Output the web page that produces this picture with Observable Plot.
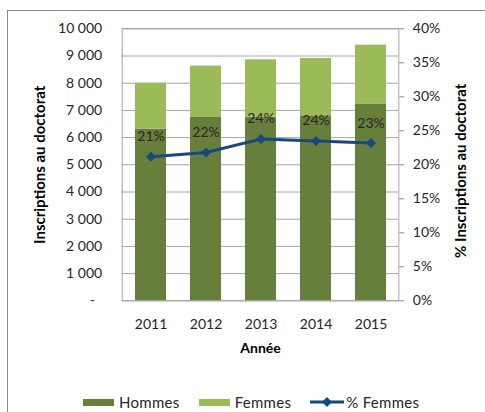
<!DOCTYPE html>
<html>
<head>
<meta charset="utf-8">
<script src="https://cdn.jsdelivr.net/npm/d3@7"></script>
<script src="https://cdn.jsdelivr.net/npm/@observablehq/plot@0.6"></script>
<style>
  html, body { margin: 0; padding: 0; background: #fff; overflow: hidden; width: 485px; height: 412px; }
  #frame { position: absolute; left: 7px; top: 10px; width: 600px; height: 600px; border: 1px solid #8c8c8c; box-sizing: border-box; }
  #chart { position: absolute; left: 0; top: 0; }
  #legend { position: absolute; left: 83px; top: 393px; display: flex; align-items: center; font-family: Lato, sans-serif; font-size: 15px; letter-spacing: 0.3px; color: #262626; }
  .item { display: flex; align-items: center; margin-right: 19px; }
  .sw { width: 31px; height: 7px; margin-right: 5px; }
</style>
</head>
<body>
<div id="frame"></div>
<div id="chart"></div>
<div id="legend"></div>
<script>
const years = ["2011", "2012", "2013", "2014", "2015"];
const hommes = [6310, 6760, 6750, 6800, 7220];
const femmes = [1690, 1870, 2110, 2110, 2180];
const pctFemmes = [21.2, 21.8, 23.8, 23.5, 23.2];
const seriesNames = ["Hommes", "Femmes", "% Femmes"];
const leftTicks = [0, 1000, 2000, 3000, 4000, 5000, 6000, 7000, 8000, 9000, 10000];
const rightTicks = [0, 5, 10, 15, 20, 25, 30, 35, 40];
const yTitle = "Inscriptions au doctorat";
const y2Title = "% Inscriptions au doctorat";
const xTitle = "Année";

const colors = {"Hommes": "#66803b", "Femmes": "#9bbb59", "% Femmes": "#17497e"};
const k = 10000 / 40;

const bars = years.flatMap((y, i) => [
  {year: y, series: seriesNames[0], value: hommes[i]},
  {year: y, series: seriesNames[1], value: femmes[i]}
]);
const line = years.map((y, i) => ({year: y, pct: pctFemmes[i]}));

const loc = d3.formatLocale({decimal: ",", thousands: " ", grouping: [3], currency: ["", ""]});
const fmt = loc.format(",");

const chart = Plot.plot({
  width: 485,
  height: 360,
  marginLeft: 121.7,
  marginRight: 86.7,
  marginTop: 28.3,
  marginBottom: 59.7,
  style: {fontFamily: "Lato, sans-serif", fontSize: "14px", color: "#262626", background: "transparent", overflow: "visible"},
  x: {domain: years, paddingInner: 0.44, paddingOuter: 0.22, axis: null, label: null},
  y: {domain: [0, 10000], axis: null, label: null},
  color: {domain: seriesNames.slice(0, 2), range: [colors["Hommes"], colors["Femmes"]]},
  marks: [
    Plot.gridY(leftTicks, {stroke: "#a6a6a6", strokeOpacity: 1}),
    Plot.barY(bars, {x: "year", y: "value", fill: "series", order: seriesNames.slice(0, 2)}),
    Plot.frame({stroke: "#a6a6a6"}),
    Plot.axisY(leftTicks, {anchor: "left", tickSize: 0, tickPadding: 20, label: null,
      tickFormat: d => d === 0 ? "-\u00a0\u00a0" : fmt(d), fill: "#262626"}),
    Plot.axisY(rightTicks.map(p => p * k), {anchor: "right", tickSize: 5, tickPadding: 9, label: null,
      tickFormat: d => Math.round(d / k) + "%", stroke: "#8c8c8c", fill: "#262626"}),
    Plot.axisX({tickSize: 0, tickPadding: 18, label: null, fill: "#262626"}),
    Plot.line(line, {x: "year", y: d => d.pct * k, stroke: colors["% Femmes"], strokeWidth: 3}),
    Plot.dot(line, {x: "year", y: d => d.pct * k, symbol: "diamond2", r: 4.5, fill: colors["% Femmes"], stroke: null}),
    Plot.text(line, {x: "year", y: d => d.pct * k, text: d => Math.round(d.pct) + "%", dy: -20, fill: "#262626", fontSize: 14}),
    Plot.text([xTitle], {frameAnchor: "bottom", dy: 52, fontWeight: "bold", fontSize: 14, fill: "#000"}),
    Plot.text([yTitle], {frameAnchor: "left", textAnchor: "middle", dx: -82, rotate: -90, fontWeight: "bold", fontSize: 15, fill: "#000"}),
    Plot.text([y2Title], {frameAnchor: "right", textAnchor: "middle", dx: 62, dy: 6, rotate: -90, fontWeight: "bold", fontSize: 15, fill: "#000"})
  ]
});
document.getElementById("chart").appendChild(chart);

const legend = document.getElementById("legend");
seriesNames.forEach((name, i) => {
  const item = document.createElement("div");
  item.className = "item";
  if (i < 2) {
    const sw = document.createElement("div");
    sw.className = "sw";
    sw.style.background = colors[name];
    item.appendChild(sw);
  } else {
    const ns = "http://www.w3.org/2000/svg";
    const svg = document.createElementNS(ns, "svg");
    svg.setAttribute("width", 34); svg.setAttribute("height", 12);
    svg.style.marginRight = "2px";
    const l = document.createElementNS(ns, "line");
    l.setAttribute("x1", 0); l.setAttribute("x2", 34); l.setAttribute("y1", 6); l.setAttribute("y2", 6);
    l.setAttribute("stroke", colors[name]); l.setAttribute("stroke-width", 3);
    const p = document.createElementNS(ns, "path");
    p.setAttribute("d", "M17,1L22,6L17,11L12,6Z");
    p.setAttribute("fill", colors[name]);
    svg.appendChild(l); svg.appendChild(p);
    item.appendChild(svg);
  }
  const t = document.createElement("span");
  t.textContent = name;
  item.appendChild(t);
  legend.appendChild(item);
});
</script>
</body>
</html>
